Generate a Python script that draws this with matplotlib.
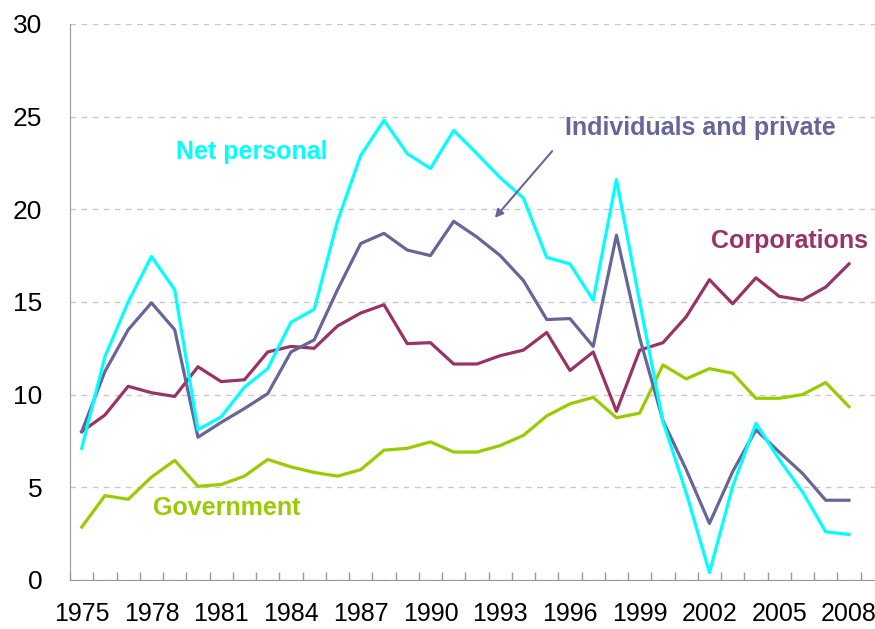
import matplotlib
matplotlib.use("Agg")
import matplotlib.pyplot as plt

years = list(range(1975, 2009))

net_personal = [7.1, 12.05, 15.0, 17.45, 15.65, 8.1, 8.8, 10.4, 11.4, 13.9, 14.6, 19.35, 22.9,
                24.8, 23.0, 22.2, 24.25, 23.0, 21.7, 20.6, 17.4, 17.05, 15.1,
                21.6, 15.0, 8.55, 4.7, 0.4, 5.05, 8.45, 6.5, 4.75, 2.6, 2.45]
individuals = [8.0, 11.25, 13.5, 14.95, 13.5, 7.7, 8.5, 9.25, 10.05, 12.3, 12.95, 15.65, 18.15,
               18.7, 17.8, 17.5, 19.35, 18.5, 17.5, 16.15, 14.05, 14.1, 12.6,
               18.6, 13.05, 8.6, 5.95, 3.05, 5.85, 8.1, 6.9, 5.75, 4.3, 4.3]
corporations = [8.0, 8.9, 10.45, 10.1, 9.9, 11.5, 10.7, 10.8, 12.3, 12.6, 12.5, 13.7, 14.4,
                 14.85, 12.75, 12.8, 11.65, 11.65, 12.1, 12.4, 13.35, 11.3, 12.3,
                 9.1, 12.4, 12.8, 14.2, 16.2, 14.9, 16.3, 15.3, 15.1, 15.8, 17.05]
government = [2.85, 4.55, 4.35, 5.55, 6.45, 5.05, 5.15, 5.6, 6.5, 6.1, 5.8, 5.6, 5.95,
              7.0, 7.1, 7.45, 6.9, 6.9, 7.25, 7.8, 8.85, 9.5, 9.85,
              8.75, 9.0, 11.6, 10.85, 11.4, 11.15, 9.8, 9.8, 10.0, 10.65, 9.35]

tick_years = list(range(1975, 2009, 3))
y_ticks = [0, 5, 10, 15, 20, 25, 30]

plt.rcParams['font.family'] = ['Liberation Sans', 'DejaVu Sans']

c_net = "#00FFFF"
c_ind = "#666699"
c_corp = "#993366"
c_gov = "#99CC00"

W, H = 875.0, 629.0
fig = plt.figure(figsize=(8.75, 6.29), dpi=100)
ax = fig.add_axes([0.0801, 0.078, 0.930, 0.884])

x = list(range(len(years)))
lw = 2.3
ax.plot(x, government, color=c_gov, lw=lw, zorder=3)
ax.plot(x, corporations, color=c_corp, lw=lw, zorder=3)
ax.plot(x, individuals, color=c_ind, lw=lw, zorder=3)
ax.plot(x, net_personal, color=c_net, lw=lw, zorder=4)

ax.set_xlim(-0.5, 34.5)
ax.set_ylim(0, 30)
ax.set_yticks(y_ticks)
ax.set_yticklabels([str(v) for v in y_ticks], fontsize=19)
ax.tick_params(axis='y', length=0, pad=20)
ax.yaxis.grid(True, linestyle=(0, (4, 4)), color="#C8C8C8", lw=1)
ax.set_axisbelow(True)

ax.set_xticks([years.index(t) for t in tick_years])
ax.set_xticklabels([str(t) for t in tick_years], fontsize=18)
ax.set_xticks([k - 0.5 for k in range(36)], minor=True)
ax.tick_params(axis='x', which='major', length=0, pad=16)
ax.tick_params(axis='x', which='minor', direction='in', length=6, color="#999999", width=1)

for s in ['top', 'right']:
    ax.spines[s].set_visible(False)
ax.spines['left'].set_color("#999999")
ax.spines['bottom'].set_color("#999999")

labels = [
    ("Net personal", 252, 152, c_net),
    ("Individuals and private", 700, 128, c_ind),
    ("Corporations", 789, 241, c_corp),
    ("Government", 227, 508, c_gov),
]
for txt, px, py, col in labels:
    fig.text(px / W, 1 - py / H, txt, color=col, fontsize=18, fontweight='bold',
             ha='center', va='center')

fig.patches.append(matplotlib.patches.FancyArrowPatch(
    (554 / W, 1 - 149 / H), (493 / W, 1 - 220 / H), transform=fig.transFigure,
    arrowstyle='-|>', mutation_scale=12, color=c_ind, lw=1.5))

fig.savefig("out.png", dpi=100)
